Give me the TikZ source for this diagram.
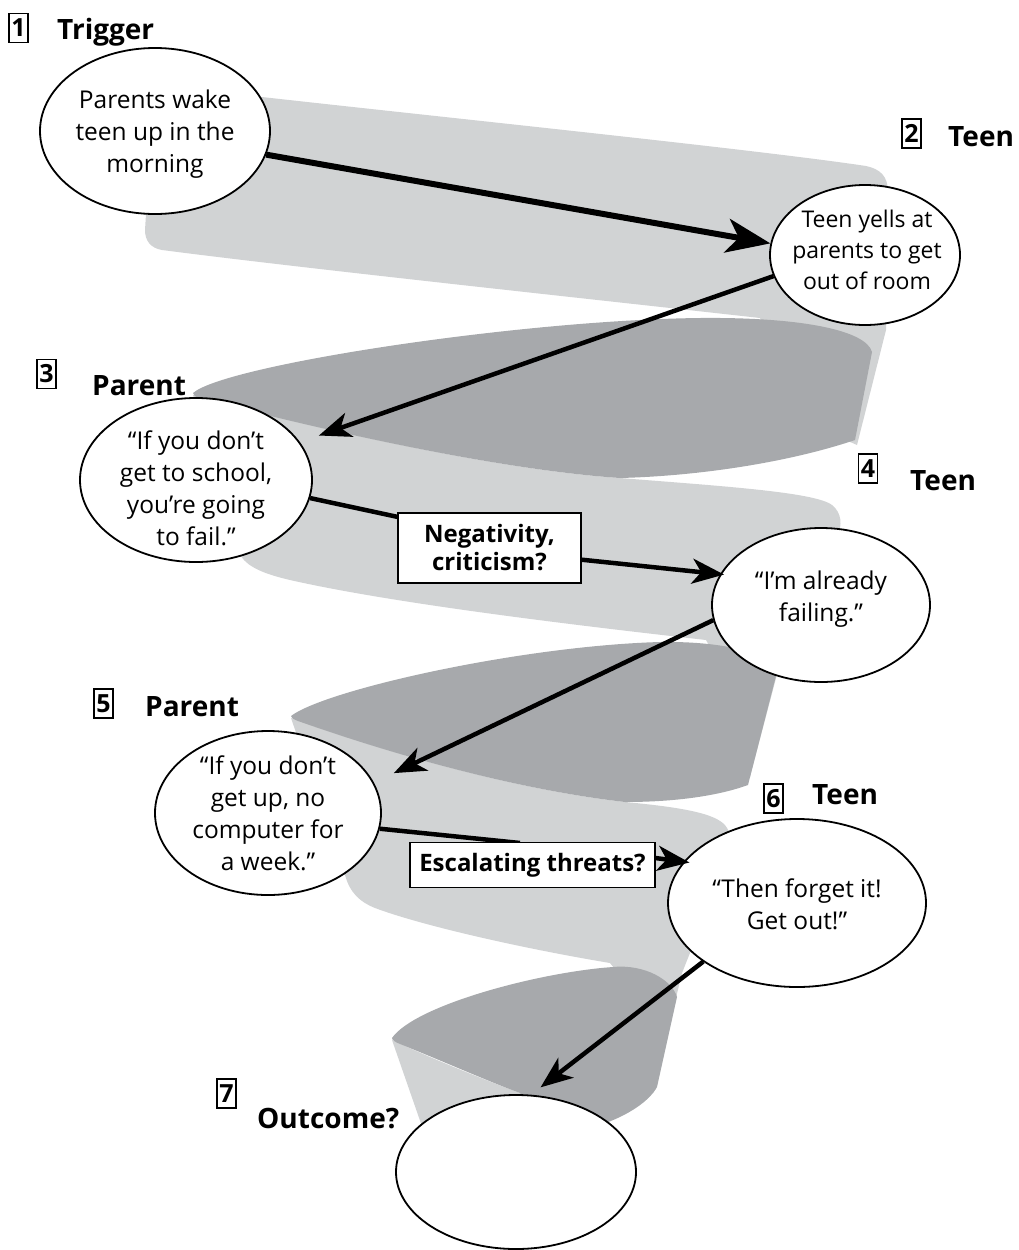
\documentclass[tikz,border=0pt]{standalone}
\usepackage{fontspec}
\setmainfont{Open Sans}
\usetikzlibrary{arrows.meta,shapes.geometric}
\definecolor{ribbonlight}{RGB}{209,211,212}
\definecolor{ribbondark}{RGB}{167,169,172}
\begin{document}
\begin{tikzpicture}[x=1pt,y=-1pt,
  bubble/.style={ellipse,draw=black,line width=1.8pt,fill=white,inner sep=0pt},
  bubbletext/.style={align=center,inner sep=0pt,font=\fontsize{24.5}{32}\selectfont},
  smalltext/.style={align=center,inner sep=0pt,font=\fontsize{23}{31}\selectfont},
  stepno/.style={draw=black,line width=1.2pt,minimum width=19pt,minimum height=29pt,inner sep=0pt,font=\bfseries\fontsize{25}{25}\selectfont},
  heading/.style={anchor=base west,inner sep=0pt,font=\bfseries\fontsize{28}{30}\selectfont},
  tagbox/.style={draw=black,line width=1.8pt,fill=white,align=center,inner sep=0pt,font=\bfseries\fontsize{24}{28}\selectfont},
  flow/.style={line width=4.5pt,-{Stealth[length=32pt,width=25pt,inset=9pt]}},
  bigflow/.style={line width=6pt,-{Stealth[length=44pt,width=34pt,inset=12pt]}},
  flowline/.style={line width=4.5pt},
]
\useasboundingbox (0,0) rectangle (1019,1250);

% ---- spiral ribbon: light front faces ----
\fill[ribbonlight] (240,98) -- (262,97) .. controls (450,118) and (760,150) .. (866,166)
  .. controls (880,169) and (888,176) .. (888,192) -- (886,330) -- (857,445) -- (800,420)
  -- (760,318) .. controls (600,300) and (300,268) .. (162,250)
  .. controls (150,248) and (145,240) .. (145,230) -- (150,150) -- cycle;
\fill[ribbonlight] (193,395) .. controls (320,430) and (500,470) .. (620,478)
  .. controls (720,486) and (815,492) .. (832,505) .. controls (842,513) and (842,525) .. (838,535)
  -- (780,663) -- (750,777) -- (740,700) -- (706,640)
  .. controls (600,628) and (400,605) .. (290,580) .. controls (260,573) and (243,565) .. (238,550) -- cycle;
\fill[ribbonlight] (291,718) .. controls (400,757) and (520,790) .. (625,802)
  .. controls (690,808) and (720,815) .. (727,828) .. controls (732,836) and (731,845) .. (729,855)
  -- (682,973) -- (653,1093) -- (640,1000) -- (610,963)
  .. controls (520,948) and (420,925) .. (375,908) .. controls (360,902) and (350,893) .. (345,875) -- cycle;
\fill[ribbonlight] (392,1040) .. controls (430,1058) and (490,1082) .. (520,1093)
  -- (520,1140) -- (425,1135) -- cycle;

% ---- spiral ribbon: dark back faces ----
\fill[ribbondark] (193,393) .. controls (225,365) and (520,320) .. (700,318)
  .. controls (800,317) and (866,330) .. (872,352)
  -- (855,440) .. controls (790,462) and (700,476) .. (620,478)
  .. controls (500,470) and (320,430) .. (200,398) .. controls (195,397) and (193,395) .. (193,393) -- cycle;
\fill[ribbondark] (291,716) .. controls (325,690) and (520,646) .. (660,642)
  .. controls (730,641) and (772,655) .. (777,672)
  -- (748,785) .. controls (715,797) and (670,802) .. (625,802)
  .. controls (520,790) and (400,757) .. (298,721) .. controls (293,719) and (291,718) .. (291,716) -- cycle;
\fill[ribbondark] (392,1038) .. controls (415,1005) and (540,972) .. (613,967)
  .. controls (645,964) and (672,980) .. (677,997)
  -- (657,1087) .. controls (650,1100) and (630,1115) .. (600,1125) -- (530,1110) -- (520,1093)
  .. controls (490,1082) and (440,1060) .. (400,1044) .. controls (395,1042) and (392,1040) .. (392,1038) -- cycle;

% ---- step numbers and headings ----
\node[stepno] (n1) at (18.5,28) {1};
\node[heading] (h1) at (57,39) {Trigger};
\node[stepno] (n2) at (911.5,133.5) {2};
\node[heading] (h2) at (948,146) {Teen};
\node[stepno] (n3) at (46.5,374) {3};
\node[heading] (h3) at (92,395) {Parent};
\node[stepno] (n4) at (868,468.5) {4};
\node[heading] (h4) at (910,490) {Teen};
\node[stepno] (n5) at (103.5,703.5) {5};
\node[heading] (h5) at (145,716) {Parent};
\node[stepno] (n6) at (773.5,798.5) {6};
\node[heading] (h6) at (812,804) {Teen};
\node[stepno] (n7) at (226.5,1093.5) {7};
\node[heading] (h7) at (257,1128) {Outcome?};

% ---- speech bubbles ----
\node[bubble,minimum width=230pt,minimum height=166pt] (e1) at (155,131) {};
\node[bubble,minimum width=190pt,minimum height=140pt] (e2) at (865,255) {};
\node[bubble,minimum width=232pt,minimum height=164pt] (e3) at (196,480) {};
\node[bubble,minimum width=218pt,minimum height=154pt] (e4) at (821,605) {};
\node[bubble,minimum width=226pt,minimum height=164pt] (e5) at (268,813) {};
\node[bubble,minimum width=258pt,minimum height=168pt] (e6) at (797,903) {};
\node[bubble,minimum width=240pt,minimum height=154pt] (e7) at (516,1172) {};

\node[bubbletext] (t1) at (155,134) {Parents wake\\teen up in the\\morning};
\node[smalltext] (t2) at (867,250) {Teen yells at\\parents to get\\out of room};
\node[bubbletext] (t3) at (196,488) {“If you don’t\\get to school,\\you’re going\\to fail.”};
\node[bubbletext] (t4) at (821,599) {“I’m already\\failing.”};
\node[bubbletext] (t5) at (268,813) {“If you don’t\\get up, no\\computer for\\a week.”};
\node[bubbletext] (t6) at (797,904) {“Then forget it!\\Get out!”};

% ---- connectors ----
\draw[bigflow] (e1.-12) -- (e2.173);
\draw[flow,shorten >=20pt] (e2.193) -- (e3.20);
\draw[flowline] (e3.-9) -- (398,517) coordinate (negin);
\draw[flow,shorten >=-4pt] (575,559) coordinate (negout) -- (e4.163);
\draw[flow,shorten >=22pt] (e4.188) -- (e5.16);
\draw[flowline] (e5.-8) -- (520,843) coordinate (escin);
\draw[flow,shorten >=-6pt] (640,856) coordinate (escout) -- (e6.160);
\draw[flow,shorten >=12pt] (e6.212) -- (e7.79);

% ---- question boxes ----
\node[tagbox,minimum width=183pt,minimum height=70pt] (neg) at (489.5,548) {Negativity,\\criticism?};
\node[tagbox,minimum width=245pt,minimum height=45pt] (esc) at (532.5,865) {Escalating threats?};
\end{tikzpicture}
\end{document}
